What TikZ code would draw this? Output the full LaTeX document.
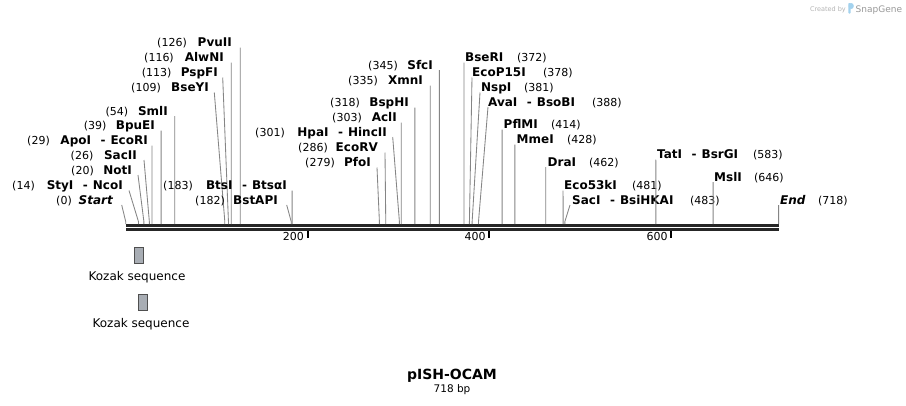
\documentclass[tikz,border=0pt]{standalone}
\usepackage{fontspec}
\setmainfont{DejaVu Sans}
\definecolor{linegray}{HTML}{858585}
\definecolor{backbone}{HTML}{262626}
\definecolor{featfill}{HTML}{A8ADB4}
\definecolor{featdraw}{HTML}{4F4F4F}
\definecolor{logotext}{HTML}{B4B4B4}
\definecolor{logoblue}{HTML}{A3D2EE}
% left label: #1 id, #2 bp, #3 baseline y, #4 name right x, #5 name, #6 number right x, #7 line start x
\newcommand{\leftlab}[7]{%
  \node[namestyle, anchor=base east] (nm#1) at (#4,#3) {#5};
  \node[numstyle, anchor=base east] (nu#1) at (#6,#3) {(#2)};
  \coordinate (s#1) at (#7,#3+1);
  \coordinate (k#1) at ({125.7+0.9093*#2},221.5);
  \coordinate (b#1) at ({125.7+0.9093*#2},224);
  \draw[conn] (s#1) -- (k#1) -- (b#1);
}
% right label: #1 id, #2 bp, #3 baseline y, #4 name left x, #5 name, #6 number left x, #7 line start x
\newcommand{\rightlab}[7]{%
  \node[namestyle, anchor=base west] (nm#1) at (#4,#3) {#5};
  \node[numstyle, anchor=base west] (nu#1) at (#6,#3) {(#2)};
  \coordinate (s#1) at (#7,#3+1);
  \coordinate (k#1) at ({125.7+0.9093*#2},221.5);
  \coordinate (b#1) at ({125.7+0.9093*#2},224);
  \draw[conn] (s#1) -- (k#1) -- (b#1);
}
\newcommand{\dsh}[2]{#1\hspace{9.5pt}-\hspace{5pt}#2}
\begin{document}
\begin{tikzpicture}[x=1pt,y=-1pt,
  namestyle/.style={font=\fontsize{12}{14}\selectfont\bfseries, inner sep=0pt, text=black},
  numstyle/.style={font=\fontsize{11}{13}\selectfont, inner sep=0pt, text=black},
  conn/.style={draw=linegray, line width=0.85pt},
  tickmark/.style={draw=black, line width=2pt},
  featbox/.style={draw=featdraw, fill=featfill, line width=1pt},
  featlabel/.style={font=\fontsize{12}{14}\selectfont, inner sep=0pt, text=black}]
\useasboundingbox (0,0) rectangle (906,405);
\fill[white] (0,0) rectangle (906,405);

% backbone
\fill[backbone] (125.7,224) rectangle (779.3,226.8);
\fill[backbone] (125.7,228.3) rectangle (779.3,230.6);

% ticks
\coordinate (t2a) at (307.6,230.5); \coordinate (t2b) at (307.6,238);
\coordinate (t4a) at (489.4,230.5); \coordinate (t4b) at (489.4,238);
\coordinate (t6a) at (671.3,230.5); \coordinate (t6b) at (671.3,238);
\draw[tickmark] (t2a) -- (t2b);
\draw[tickmark] (t4a) -- (t4b);
\draw[tickmark] (t6a) -- (t6b);
\node[numstyle, anchor=base east] (l200) at (304,240.5) {200};
\node[numstyle, anchor=base east] (l400) at (485.8,240.5) {400};
\node[numstyle, anchor=base east] (l600) at (667.7,240.5) {600};

% left-side labels
\leftlab{pvu}{126}{46.5}{232}{PvuII}{187}{240.27}
\leftlab{alw}{116}{61.5}{224}{AlwNI}{174}{231.18}
\leftlab{psp}{113}{76.5}{218}{PspFI}{171.7}{222.7}
\leftlab{bsey}{109}{91.5}{209}{BseYI}{161}{214.3}
\leftlab{sml}{54}{115}{168}{SmlI}{128.3}{174.8}
\leftlab{bpu}{39}{129.5}{155}{BpuEI}{106.7}{161.16}
\leftlab{apo}{29}{144.5}{148}{\dsh{ApoI}{EcoRI}}{50}{152.07}
\leftlab{sac2}{26}{159}{137}{SacII}{93.5}{144}
\leftlab{not}{20}{174}{132}{NotI}{94}{138}
\leftlab{sty}{14}{189.5}{123}{\dsh{StyI}{NcoI}}{35}{129}
\leftlab{start}{0}{204}{113}{\itshape Start}{72}{121.7}
\leftlab{bts}{183}{189.5}{287}{\dsh{BtsI}{BtsαI}}{193}{292.10}
\leftlab{bstap}{182}{204}{278}{BstAPI}{225}{286.7}
\leftlab{hpa}{301}{136}{387}{\dsh{HpaI}{HincII}}{285}{392.7}
\leftlab{ecorv}{286}{151.5}{378}{EcoRV}{328}{385}
\leftlab{pfo}{279}{166.5}{371}{PfoI}{335}{377}
\leftlab{acl}{303}{121.5}{397}{AclI}{362}{401.22}
\leftlab{bsph}{318}{106.5}{409}{BspHI}{360}{414.86}
\leftlab{xmn}{335}{84.5}{423}{XmnI}{378}{430.32}
\leftlab{sfc}{345}{69}{433}{SfcI}{398}{439.41}

% right-side labels
\rightlab{bser}{372}{61.5}{465}{BseRI}{517}{463.96}
\rightlab{ecop}{378}{76.5}{472}{EcoP15I}{543}{472}
\rightlab{nsp}{381}{91.5}{481}{NspI}{524}{480}
\rightlab{ava}{388}{106}{488}{\dsh{AvaI}{BsoBI}}{592}{488}
\rightlab{pfl}{414}{128.5}{503.5}{PflMI}{551}{502.15}
\rightlab{mme}{428}{143.5}{516.5}{MmeI}{567}{514.88}
\rightlab{dra}{462}{166}{547.5}{DraI}{589}{545.80}
\rightlab{eco53}{481}{189.5}{564}{Eco53kI}{632}{563.07}
\rightlab{saci}{483}{204}{572}{\dsh{SacI}{BsiHKAI}}{690}{570}
\rightlab{tat}{583}{158.5}{657}{\dsh{TatI}{BsrGI}}{753}{655.82}
\rightlab{msl}{646}{181}{714}{MslI}{754}{713.11}
\rightlab{endl}{718}{204}{780}{\itshape End}{818}{778.58}

% features
\node[featbox, minimum width=9pt, minimum height=16pt, inner sep=0pt] (koz1) at (138.8,255.3) {};
\node[featlabel, anchor=base] (koz1l) at (137,280.3) {Kozak sequence};
\node[featbox, minimum width=9pt, minimum height=16pt, inner sep=0pt] (koz2) at (143,302.3) {};
\node[featlabel, anchor=base] (koz2l) at (141,327.3) {Kozak sequence};

% title
\node[font=\fontsize{14}{16}\selectfont\bfseries, inner sep=0pt, anchor=base] (title) at (452,379) {pISH-OCAM};
\node[font=\fontsize{10.5}{12}\selectfont, inner sep=0pt, anchor=base] (size) at (452,392) {718 bp};

% logo
\node[font=\fontsize{6.5}{8}\selectfont, text=logotext, inner sep=0pt, anchor=base east] (cby) at (846,11.3) {Created by};
\fill[logoblue, rounded corners=0.8pt] (848.3,3) rectangle (850.6,13.5);
\fill[logoblue] (851.2,6) ellipse [x radius=2.6, y radius=3];
\node[font=\fontsize{9}{10}\selectfont, text=logotext!85!black, inner sep=0pt, anchor=base west] (sg) at (855.5,12) {SnapGene};
\end{tikzpicture}
\end{document}
